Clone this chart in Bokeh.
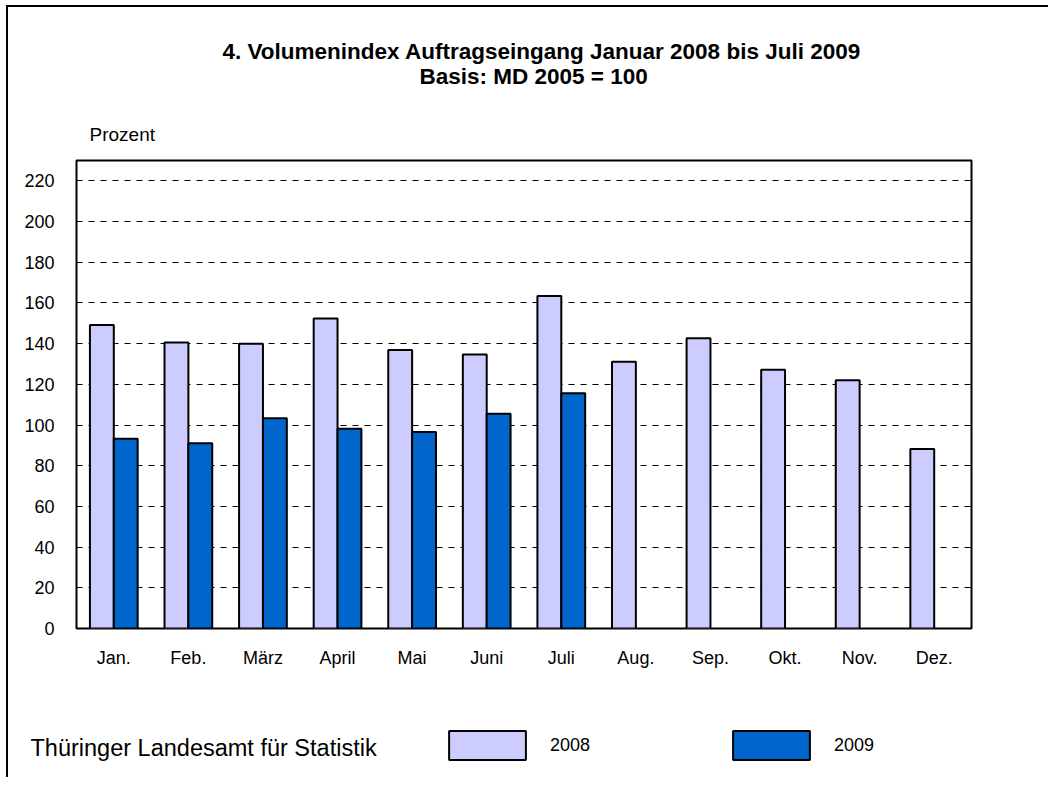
from bokeh.plotting import figure
from bokeh.layouts import column
from bokeh.models import (FactorRange, Range1d, ColumnDataSource, Legend, LegendItem,
                          Title, Label, FixedTicker)
from bokeh.transform import dodge
from bokeh.embed import file_html
from bokeh.resources import INLINE

# ---- data ----
months = ["Jan.", "Feb.", "März", "April", "Mai", "Juni", "Juli",
          "Aug.", "Sep.", "Okt.", "Nov.", "Dez."]
values_2008 = [149.2, 140.5, 140.0, 152.3, 136.9, 134.7, 163.4,
               131.1, 142.6, 127.2, 122.0, 88.2]
values_2009 = [93.3, 91.0, 103.3, 98.2, 96.6, 105.5, 115.6,
               None, None, None, None, None]
y_ticks = [0, 20, 40, 60, 80, 100, 120, 140, 160, 180, 200, 220]
series_names = ["2008", "2009"]
title_line1 = "4. Volumenindex Auftragseingang Januar 2008 bis Juli 2009"
title_line2 = "Basis: MD 2005 = 100"
unit_label = "Prozent"
source_label = "Thüringer Landesamt für Statistik"

FONT = "Liberation Sans"
C2008 = "#CCCCFF"
C2009 = "#0066CC"

v09 = [float("nan") if v is None else v for v in values_2009]
src = ColumnDataSource(data=dict(month=months, v08=values_2008, v09=v09))

# ---------------- main chart ----------------
p = figure(x_range=FactorRange(factors=months, range_padding=0),
           y_range=Range1d(0, 230),
           width=1040, height=670,
           min_border_left=68, min_border_right=77,
           min_border_top=153, min_border_bottom=49,
           output_backend="svg", toolbar_location=None)
p.frame_align = False

p.background_fill_color = "white"
p.border_fill_color = "white"
p.outline_line_color = "black"
p.outline_line_width = 2

r08 = p.vbar(x=dodge("month", -0.16, range=p.x_range), top="v08", width=0.32,
             source=src, fill_color=C2008, line_color="black", line_width=2)
r09 = p.vbar(x=dodge("month", 0.16, range=p.x_range), top="v09", width=0.32,
             source=src, fill_color=C2009, line_color="black", line_width=2)

p.yaxis.ticker = FixedTicker(ticks=y_ticks)
for ax in (p.xaxis, p.yaxis):
    ax.axis_line_color = None
    ax.major_tick_line_color = None
    ax.minor_tick_line_color = None
    ax.major_tick_out = 0
    ax.major_tick_in = 0
    ax.major_label_text_font = FONT
    ax.major_label_text_font_size = "18px"
    ax.major_label_text_color = "black"
p.yaxis.major_label_standoff = 22
p.xaxis.major_label_standoff = 19

p.xgrid.grid_line_color = None
p.ygrid.grid_line_color = "black"
p.ygrid.grid_line_width = 1
p.ygrid.grid_line_dash = "6 6"
p.ygrid.ticker = FixedTicker(ticks=y_ticks[1:])

# texts above the plot (first added = closest to the plot frame)
p.add_layout(Title(text=unit_label, align="left", offset=13, vertical_align="middle",
                   standoff=30, text_font=FONT, text_font_size="19px",
                   text_font_style="normal", text_color="black"), "above")
p.add_layout(Title(text=" ", text_font_size="10px", standoff=6), "above")
p.add_layout(Title(text=title_line2, align="left", offset=343, vertical_align="middle",
                   standoff=-3, text_font=FONT, text_font_size="22.5px",
                   text_font_style="bold", text_color="black"), "above")
p.add_layout(Title(text=title_line1, align="left", offset=146, vertical_align="middle",
                   standoff=0, text_font=FONT, text_font_size="22.5px",
                   text_font_style="bold", text_color="black"), "above")

# ---------------- footer: source + legend ----------------
FH = 100
f = figure(width=1040, height=FH, x_range=p.x_range, y_range=Range1d(0, 230),
           x_axis_type=None, y_axis_type=None,
           min_border=0, min_border_left=0, min_border_right=0,
           min_border_top=0, min_border_bottom=0,
           output_backend="svg", toolbar_location=None)
f.frame_align = False
f.outline_line_color = None
f.background_fill_color = "white"
f.border_fill_color = "white"

# legend proxies (hidden renderers; only their style is shown in the legend)
s08 = f.vbar(x=dodge("month", -0.16, range=f.x_range), top="v08", width=0.32, source=src,
             fill_color=C2008, line_color="black", line_width=2, visible=False)
s09 = f.vbar(x=dodge("month", 0.16, range=f.x_range), top="v09", width=0.32, source=src,
             fill_color=C2009, line_color="black", line_width=2, visible=False)

legend = Legend(items=[LegendItem(label=series_names[0], renderers=[s08]),
                       LegendItem(label=series_names[1], renderers=[s09])],
                orientation="horizontal",
                location=(431, 14),
                glyph_width=96, glyph_height=36,
                label_standoff=15, spacing=133,
                padding=0, margin=0,
                border_line_color=None, background_fill_alpha=0,
                inactive_fill_alpha=0,
                label_text_font=FONT, label_text_font_size="18px",
                label_text_color="black", label_height=36)
f.add_layout(legend, "center")

f.add_layout(Label(x=22, y=30, x_units="screen", y_units="screen",
                   text=source_label, text_font=FONT, text_font_size="23.5px",
                   text_align="left", text_baseline="middle", text_color="black"))

layout = column(p, f, spacing=0)
layout.styles = {"margin-left": "6px", "margin-top": "5px",
                 "border-left": "2px solid black", "border-top": "2px solid black"}

open("out.html", "w").write(file_html(layout, INLINE))
